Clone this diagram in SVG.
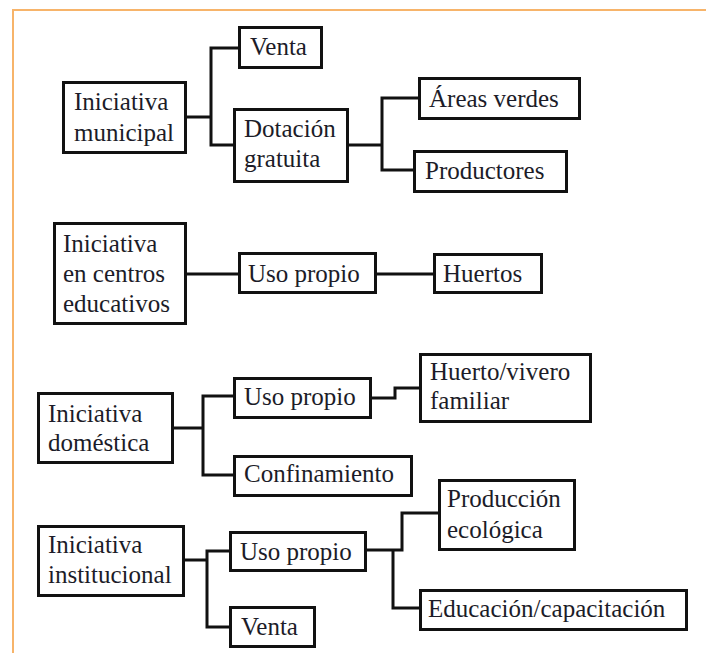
<svg xmlns="http://www.w3.org/2000/svg" width="706" height="653" viewBox="0 0 706 653" font-family="Liberation Serif, DejaVu Serif, serif">
  <style>
    .box { fill: #ffffff; stroke: #111111; stroke-width: 3; }
    .lbl { font-size: 25px; fill: #1c1c28; }
    .wire { fill: none; stroke: #111111; stroke-width: 3; stroke-linejoin: miter; }
    .frame { fill: none; stroke: #f7b46a; stroke-width: 2; }
  </style>
  <rect width="706" height="653" fill="#ffffff"/>
  <path class="frame" d="M13 653 V10 H706"/>

  <g id="connectors">
    <path class="wire" d="M187 117 H211 M238 48 H211 V145 H233"/>
    <path class="wire" d="M349 145 H382 M418 98 H382 V170 H413"/>
    <path class="wire" d="M187 274 H238 M377 274 H433"/>
    <path class="wire" d="M174 428 H203 M233 396 H203 V475 H233"/>
    <path class="wire" d="M372 398 H395 V388 H419"/>
    <path class="wire" d="M185 560 H207 M229 551 H207 V627 H229"/>
    <path class="wire" d="M367 550 H402 V513 H438 M393 550 V608 H419"/>
  </g>

  <g id="municipal">
    <rect class="box" x="63.5" y="82.5" width="122" height="70"/>
    <text class="lbl" x="74" y="110">Iniciativa</text>
    <text class="lbl" x="74" y="141">municipal</text>
  </g>
  <g id="municipal-venta">
    <rect class="box" x="239.5" y="27.5" width="82" height="40"/>
    <text class="lbl" x="250" y="55">Venta</text>
  </g>
  <g id="dotacion">
    <rect class="box" x="234.5" y="109.5" width="113" height="72"/>
    <text class="lbl" x="244" y="137">Dotación</text>
    <text class="lbl" x="244" y="167">gratuita</text>
  </g>
  <g id="areas-verdes">
    <rect class="box" x="419.5" y="78.5" width="160" height="40"/>
    <text class="lbl" x="429" y="107">Áreas verdes</text>
  </g>
  <g id="productores">
    <rect class="box" x="414.5" y="151.5" width="152" height="40"/>
    <text class="lbl" x="425" y="179">Productores</text>
  </g>

  <g id="centros">
    <rect class="box" x="54.5" y="223.5" width="131" height="100"/>
    <text class="lbl" x="63" y="252">Iniciativa</text>
    <text class="lbl" x="63" y="282">en centros</text>
    <text class="lbl" x="63" y="312">educativos</text>
  </g>
  <g id="centros-uso">
    <rect class="box" x="239.5" y="253.5" width="136" height="39"/>
    <text class="lbl" x="248" y="282">Uso propio</text>
  </g>
  <g id="huertos">
    <rect class="box" x="434.5" y="254.5" width="107" height="38"/>
    <text class="lbl" x="443" y="282">Huertos</text>
  </g>

  <g id="domestica">
    <rect class="box" x="38.5" y="393.5" width="134" height="69"/>
    <text class="lbl" x="48" y="422">Iniciativa</text>
    <text class="lbl" x="48" y="451">doméstica</text>
  </g>
  <g id="domestica-uso">
    <rect class="box" x="234.5" y="378.5" width="136" height="39"/>
    <text class="lbl" x="244" y="405">Uso propio</text>
  </g>
  <g id="huerto-vivero">
    <rect class="box" x="420.5" y="354.5" width="170" height="67"/>
    <text class="lbl" x="430" y="380">Huerto/vivero</text>
    <text class="lbl" x="430" y="409">familiar</text>
  </g>
  <g id="confinamiento">
    <rect class="box" x="234.5" y="456.5" width="177" height="39"/>
    <text class="lbl" x="244" y="482">Confinamiento</text>
  </g>

  <g id="institucional">
    <rect class="box" x="38.5" y="526.5" width="145" height="69"/>
    <text class="lbl" x="48" y="553">Iniciativa</text>
    <text class="lbl" x="48" y="583">institucional</text>
  </g>
  <g id="institucional-uso">
    <rect class="box" x="230.5" y="532.5" width="135" height="38"/>
    <text class="lbl" x="240" y="560">Uso propio</text>
  </g>
  <g id="institucional-venta">
    <rect class="box" x="230.5" y="607.5" width="84" height="39"/>
    <text class="lbl" x="241" y="635">Venta</text>
  </g>
  <g id="produccion">
    <rect class="box" x="439.5" y="480.5" width="135" height="69"/>
    <text class="lbl" x="447" y="507">Producción</text>
    <text class="lbl" x="447" y="538">ecológica</text>
  </g>
  <g id="educacion">
    <rect class="box" x="420.5" y="590.5" width="266" height="39"/>
    <text class="lbl" x="428" y="617">Educación/capacitación</text>
  </g>
</svg>
